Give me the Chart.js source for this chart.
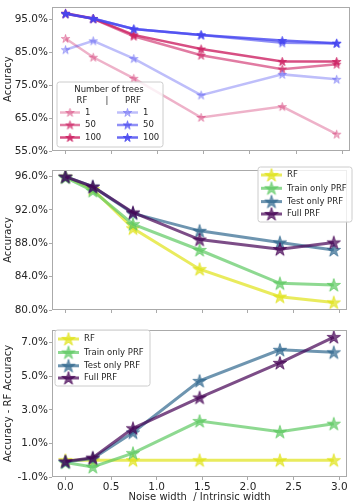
<!DOCTYPE html>
<html>
<head>
<meta charset="utf-8">
<script src="https://cdn.jsdelivr.net/npm/chart.js@4.4.1/dist/chart.umd.min.js"></script>
<style>
  html, body { margin: 0; padding: 0; background: #ffffff; }
  body { width: 357px; height: 503px; position: relative; overflow: hidden; }
  canvas { position: absolute; left: 0; }
</style>
</head>
<body>
<canvas id="c1" width="357" height="160" style="top:0px;width:357px;height:160px"></canvas>
<canvas id="c2" width="357" height="160" style="top:160px;width:357px;height:160px"></canvas>
<canvas id="c3" width="357" height="183" style="top:320px;width:357px;height:183px"></canvas>
<script>
// ---------------- data ----------------
const xValues = [0, 0.3, 0.74, 1.47, 2.35, 2.94];
const xTicks = [0, 0.5, 1.0, 1.5, 2.0, 2.5, 3.0];

// Panel 1: accuracy vs number of trees
const rf1    = [89.2, 83.5, 77.1, 65.2, 68.5, 60.1];
const rf50   = [96.7, 95.2, 89.9, 84.1, 79.9, 81.4];
const rf100  = [96.9, 95.3, 90.3, 86.0, 82.2, 82.2];
const prf1   = [85.8, 88.5, 83.1, 72.0, 78.3, 76.8];
const prf50  = [96.7, 95.3, 92.1, 90.3, 87.9, 87.7];
const prf100 = [96.8, 95.2, 92.1, 90.3, 88.6, 87.8];
const p1Ticks = [55, 65, 75, 85, 95];

// Panel 2: accuracy
const accRF    = [96.0, 94.5, 89.8, 84.9, 81.6, 80.9];
const accTrain = [95.9, 94.3, 90.3, 87.2, 83.2, 83.0];
const accTest  = [96.0, 94.8, 91.6, 89.5, 88.1, 87.2];
const accFull  = [96.0, 94.8, 91.7, 88.45, 87.3, 88.1];
const p2Ticks = [80, 84, 88, 92, 96];

// Panel 3: accuracy minus RF accuracy
const dRF    = [0, 0, 0, 0, 0, 0];
const dTrain = [-0.14, -0.4, 0.42, 2.33, 1.69, 2.17];
const dTest  = [-0.1, 0.1, 1.65, 4.72, 6.57, 6.42];
const dFull  = [-0.07, 0.15, 1.9, 3.73, 5.79, 7.33];
const p3Ticks = [-1, 1, 3, 5, 7];

const treeLabels = ['1', '50', '100'];
const methodLabels = ['RF', 'Train only PRF', 'Test only PRF', 'Full PRF'];

// ---------------- styling ----------------
const FONT = "'DejaVu Sans', 'Liberation Sans', sans-serif";
const TEXT = '#262626';
const SPINE = '#aaaaaa';
const LEG_FONT = 8.5;

function rgba(c, a) { return 'rgba(' + c[0] + ',' + c[1] + ',' + c[2] + ',' + a + ')'; }
const RF_BASE = [205, 35, 100];
const PRF_BASE = [70, 70, 240];
const TREE_ALPHA = [0.35, 0.6, 0.8];
const VIR = [[223, 227, 24], [94, 201, 98], [49, 104, 142], [68, 1, 84]];
const VIR_ALPHA = 0.7;

function starCanvas(color, r) {
  const size = Math.ceil(2 * r + 4);
  const c = document.createElement('canvas');
  c.width = size; c.height = size;
  const g = c.getContext('2d');
  const cx = size / 2, cy = size / 2 + r * 0.08;
  g.beginPath();
  for (let i = 0; i < 10; i++) {
    const ang = -Math.PI / 2 + i * Math.PI / 5;
    const rr = (i % 2 === 0) ? r : r * 0.381966;
    g.lineTo(cx + rr * Math.cos(ang), cy + rr * Math.sin(ang));
  }
  g.closePath();
  g.fillStyle = color; g.fill();
  g.lineWidth = 1; g.strokeStyle = color; g.stroke();
  return c;
}

function pts(arr) { return xValues.map((x, i) => ({ x: x, y: arr[i] })); }

function mkDs(label, arr, color, lw, starR, idx, n) {
  return {
    label: label, data: pts(arr),
    borderColor: color, backgroundColor: color, borderWidth: lw,
    pointStyle: starCanvas(color, starR), pointRadius: starR,
    pointHoverRadius: starR, tension: 0, fill: false,
    order: n - idx
  };
}

function drawStar(ctx, x, y, r, color) {
  const img = starCanvas(color, r);
  ctx.drawImage(img, x - img.width / 2, y - img.height / 2);
}

function roundRect(ctx, x, y, w, h, r) {
  ctx.beginPath();
  ctx.moveTo(x + r, y);
  ctx.lineTo(x + w - r, y); ctx.quadraticCurveTo(x + w, y, x + w, y + r);
  ctx.lineTo(x + w, y + h - r); ctx.quadraticCurveTo(x + w, y + h, x + w - r, y + h);
  ctx.lineTo(x + r, y + h); ctx.quadraticCurveTo(x, y + h, x, y + h - r);
  ctx.lineTo(x, y + r); ctx.quadraticCurveTo(x, y, x + r, y);
  ctx.closePath();
}

function legendEntry(ctx, x0, x1, y, color, lw, r, text) {
  ctx.save();
  ctx.strokeStyle = color; ctx.lineWidth = lw; ctx.lineCap = 'butt';
  ctx.beginPath(); ctx.moveTo(x0, y); ctx.lineTo(x1, y); ctx.stroke();
  drawStar(ctx, (x0 + x1) / 2, y, r, color);
  ctx.fillStyle = TEXT; ctx.font = LEG_FONT + 'px ' + FONT;
  ctx.textBaseline = 'middle'; ctx.textAlign = 'left';
  ctx.fillText(text, x1 + 5, y);
  ctx.restore();
}

function legendBox(ctx, x, y, w, h) {
  ctx.save();
  roundRect(ctx, x, y, w, h, 2.5);
  ctx.fillStyle = 'rgba(255,255,255,0.8)'; ctx.fill();
  ctx.strokeStyle = '#cccccc'; ctx.lineWidth = 1; ctx.stroke();
  ctx.restore();
}

function framePlugin(legendFn) {
  return {
    id: 'frame',
    afterDraw(chart) {
      const a = chart.chartArea, ctx = chart.ctx;
      ctx.save();
      ctx.strokeStyle = SPINE; ctx.lineWidth = 1;
      ctx.strokeRect(Math.round(a.left) + 0.5, Math.round(a.top) + 0.5,
        Math.round(a.right - a.left) - 1, Math.round(a.bottom - a.top) - 1);
      ctx.restore();
      legendFn(ctx);
    }
  };
}

function baseOptions(cfg) {
  return {
    responsive: false, animation: false, devicePixelRatio: 1,
    layout: { padding: { top: cfg.padTop, right: 2, left: 0, bottom: 0 } },
    events: [],
    plugins: { legend: { display: false }, tooltip: { enabled: false } },
    scales: {
      x: {
        type: 'linear', min: -0.147, max: 3.085,
        afterBuildTicks: s => { s.ticks = xTicks.map(v => ({ value: v })); },
        afterFit: s => { s.height = cfg.xHeight; },
        grid: { display: true, drawOnChartArea: false, drawTicks: true, tickLength: 3, color: SPINE },
        border: { display: false },
        ticks: {
          display: cfg.xLabels, padding: 1, maxRotation: 0, autoSkip: false,
          color: TEXT, font: { family: FONT, size: 10.5 },
          callback: v => Number(v).toFixed(1)
        },
        title: {
          display: cfg.xLabels, text: 'Noise width  / Intrinsic width',
          color: TEXT, font: { family: FONT, size: 10 }, padding: { top: 0, bottom: 0 }
        }
      },
      y: {
        type: 'linear', min: cfg.yMin, max: cfg.yMax,
        afterBuildTicks: s => { s.ticks = cfg.yTicks.map(v => ({ value: v })); },
        afterFit: s => { s.width = 52; },
        grid: { display: true, drawOnChartArea: false, drawTicks: true, tickLength: 3, color: SPINE },
        border: { display: false },
        ticks: {
          padding: 1, color: TEXT, font: { family: FONT, size: 10.5 },
          callback: v => Number(v).toFixed(1) + '%'
        },
        title: {
          display: true, text: cfg.yTitle, color: TEXT,
          font: { family: FONT, size: 10 }, padding: { top: 2, bottom: 0 }
        }
      }
    }
  };
}

// ---------------- Panel 1 ----------------
const rfSeries = [rf1, rf50, rf100];
const prfSeries = [prf1, prf50, prf100];
const ds1 = [];
rfSeries.forEach((arr, i) => ds1.push(mkDs('RF ' + treeLabels[i], arr, rgba(RF_BASE, TREE_ALPHA[i]), 2.5, 4.5, ds1.length, 6)));
prfSeries.forEach((arr, i) => ds1.push(mkDs('PRF ' + treeLabels[i], arr, rgba(PRF_BASE, TREE_ALPHA[i]), 2.5, 4.5, ds1.length, 6)));

new Chart(document.getElementById('c1'), {
  type: 'line',
  data: { datasets: ds1 },
  options: baseOptions({ padTop: 0.5, xHeight: 9, xLabels: false, yMin: 55, yMax: 98.7, yTicks: p1Ticks, yTitle: 'Accuracy' }),
  plugins: [framePlugin(ctx => {
    legendBox(ctx, 57, 82, 106, 65);
    ctx.save();
    ctx.fillStyle = TEXT; ctx.font = LEG_FONT + 'px ' + FONT;
    ctx.textAlign = 'center'; ctx.textBaseline = 'middle';
    ctx.fillText('Number of trees', 109, 90);
    ctx.fillText('RF', 82, 101);
    ctx.fillText('|', 107, 101);
    ctx.fillText('PRF', 133, 101);
    ctx.restore();
    const rows = [112.5, 125, 137.5];
    for (let i = 0; i < 3; i++) {
      legendEntry(ctx, 60, 80, rows[i], rgba(RF_BASE, TREE_ALPHA[i]), 2.5, 4.5, treeLabels[i]);
      legendEntry(ctx, 117, 138, rows[i], rgba(PRF_BASE, TREE_ALPHA[i]), 2.5, 4.5, treeLabels[i]);
    }
  })]
});

// ---------------- Panel 2 ----------------
const accSeries = [accRF, accTrain, accTest, accFull];
const ds2 = accSeries.map((arr, i) => mkDs(methodLabels[i], arr, rgba(VIR[i], VIR_ALPHA), 3, 7, i, 4));
new Chart(document.getElementById('c2'), {
  type: 'line',
  data: { datasets: ds2 },
  options: baseOptions({ padTop: 5, xHeight: 6, xLabels: false, yMin: 80, yMax: 96.8, yTicks: p2Ticks, yTitle: 'Accuracy' }),
  plugins: [framePlugin(ctx => {
    legendBox(ctx, 258, 7, 94, 55);
    const rows = [15, 28.3, 41.6, 54];
    for (let i = 0; i < 4; i++) {
      legendEntry(ctx, 261, 282, rows[i], rgba(VIR[i], VIR_ALPHA), 3, 7, methodLabels[i]);
    }
  })]
});

// ---------------- Panel 3 ----------------
const dSeries = [dRF, dTrain, dTest, dFull];
const ds3 = dSeries.map((arr, i) => mkDs(methodLabels[i], arr, rgba(VIR[i], VIR_ALPHA), 3, 7, i, 4));
new Chart(document.getElementById('c3'), {
  type: 'line',
  data: { datasets: ds3 },
  options: baseOptions({ padTop: 7, xHeight: 26, xLabels: true, yMin: -1, yMax: 7.75, yTicks: p3Ticks, yTitle: 'Accuracy - RF Accuracy' }),
  plugins: [framePlugin(ctx => {
    legendBox(ctx, 55, 10, 95, 56);
    const rows = [19, 32.5, 45.8, 58];
    for (let i = 0; i < 4; i++) {
      legendEntry(ctx, 58, 79, rows[i], rgba(VIR[i], VIR_ALPHA), 3, 7, methodLabels[i]);
    }
  })]
});
</script>
</body>
</html>
